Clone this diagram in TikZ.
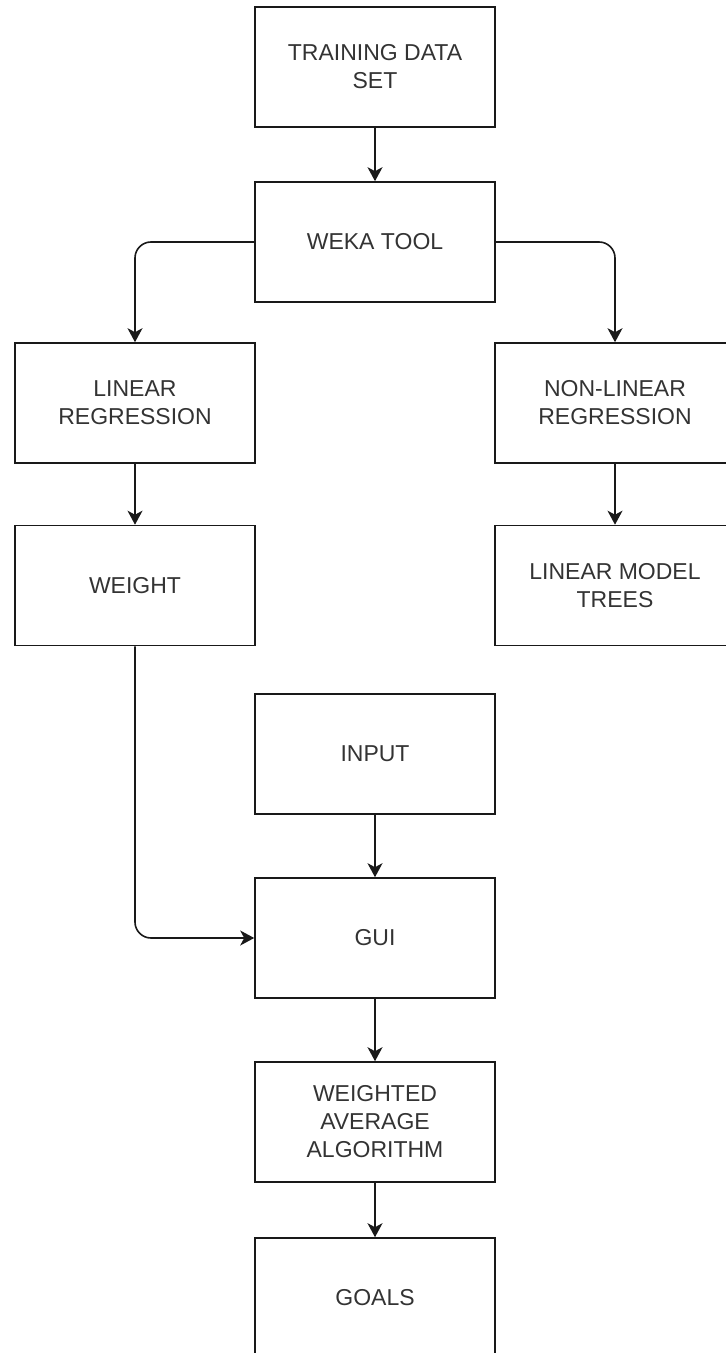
\documentclass[tikz,border=0pt]{standalone}
\usepackage{fontspec}
\setmainfont{Liberation Sans}
\usetikzlibrary{arrows.meta}
\begin{document}
\begin{tikzpicture}[x=0.5pt,y=-0.5pt,
  box/.style={draw=black!90, line width=0.8pt, rectangle, minimum width=120pt, minimum height=60pt,
    align=center, inner sep=0pt, text=black!80, font=\fontsize{11.5pt}{14pt}\selectfont},
  arr/.style={draw=black!90, line width=0.8pt, -{Stealth[length=7pt,width=7.5pt,inset=2pt]}},
  ]
\useasboundingbox (0,0) rectangle (725,1353);
\node[box] (train) at (375,67) {TRAINING DATA\\SET};
\node[box] (weka) at (375,242) {WEKA TOOL};
\node[box] (linreg) at (135,403) {LINEAR\\REGRESSION};
\node[box] (nonlin) at (615,403) {NON-LINEAR\\REGRESSION};
\node[box] (weight) at (135,585.5) {WEIGHT};
\node[box] (lmt) at (615,585.5) {LINEAR MODEL\\TREES};
\node[box] (input) at (375,754) {INPUT};
\node[box] (gui) at (375,938) {GUI};
\node[box] (waa) at (375,1122) {WEIGHTED\\AVERAGE\\ALGORITHM};
\node[box] (goals) at (375,1298) {GOALS};
\draw[arr] (train) -- (weka);
\draw[arr, rounded corners=8pt] (weka.west) -| (linreg.north);
\draw[arr, rounded corners=8pt] (weka.east) -| (nonlin.north);
\draw[arr] (linreg) -- (weight);
\draw[arr] (nonlin) -- (lmt);
\draw[arr] (input) -- (gui);
\draw[arr, rounded corners=8pt] (weight.south) |- (gui.west);
\draw[arr] (gui) -- (waa);
\draw[arr] (waa) -- (goals);
\end{tikzpicture}
\end{document}
